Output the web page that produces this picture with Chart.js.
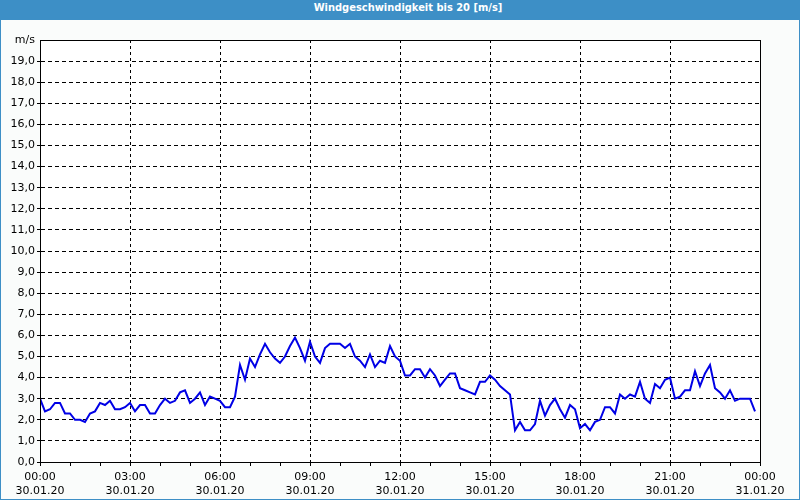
<!DOCTYPE html>
<html>
<head>
<meta charset="utf-8">
<script src="https://cdn.jsdelivr.net/npm/chart.js@4.4.1/dist/chart.umd.min.js"></script>
<style>
  html, body { margin: 0; padding: 0; background: #fafcfb; }
  #frame { position: relative; width: 798px; height: 498px; border: 1px solid #3d8fc6; background: #fafcfb; overflow: hidden; }
  #title { position: absolute; left: 0; top: 0; width: 782px; padding-left: 16px; height: 19px; line-height: 19px; background: #3d8fc6;
           color: #fff; font: bold 11px "DejaVu Sans Condensed", "DejaVu Sans", sans-serif; text-align: center; z-index: 2; }
  #chart { position: absolute; left: -1px; top: -1px; }
</style>
</head>
<body>
<div id="frame">
  <div id="title">Windgeschwindigkeit bis 20 [m/s]</div>
  <canvas id="chart" width="800" height="500"></canvas>
</div>
<script>
// Messwerte alle 10 Minuten, 30.01.20 00:00 bis 23:50
const stepMinutes = 10;
const windSpeed = [
  3.0, 2.4, 2.5, 2.8, 2.8, 2.3, 2.3, 2.0, 2.0, 1.9, 2.3, 2.4, 2.8, 2.7, 2.9, 2.5, 2.5, 2.6, 2.8, 2.4, 2.7, 2.7, 2.3, 2.3,
  2.7, 3.0, 2.8, 2.9, 3.3, 3.4, 2.8, 3.0, 3.3, 2.7, 3.1, 3.0, 2.9, 2.6, 2.6, 3.1, 4.6, 3.9, 4.9, 4.5, 5.1, 5.6, 5.2, 4.9,
  4.7, 5.0, 5.5, 5.9, 5.4, 4.8, 5.7, 5.0, 4.7, 5.4, 5.6, 5.6, 5.6, 5.4, 5.6, 5.0, 4.8, 4.5, 5.1, 4.5, 4.8, 4.7, 5.5, 5.0,
  4.8, 4.1, 4.1, 4.4, 4.4, 4.0, 4.4, 4.1, 3.6, 3.9, 4.2, 4.2, 3.5, 3.4, 3.3, 3.2, 3.8, 3.8, 4.1, 3.9, 3.6, 3.4, 3.2, 1.5,
  1.9, 1.5, 1.5, 1.8, 2.9, 2.2, 2.7, 3.0, 2.5, 2.1, 2.7, 2.5, 1.6, 1.8, 1.5, 1.9, 2.0, 2.6, 2.6, 2.3, 3.2, 3.0, 3.2, 3.1,
  3.8, 3.0, 2.8, 3.7, 3.5, 3.9, 4.0, 3.0, 3.1, 3.4, 3.4, 4.3, 3.6, 4.2, 4.6, 3.5, 3.3, 3.0, 3.4, 2.9, 3.0, 3.0, 3.0, 2.4
];

// Beschriftung der x-Achse (alle 3 Stunden)
const timeLabels = ['00:00', '03:00', '06:00', '09:00', '12:00', '15:00', '18:00', '21:00', '00:00'];
const dateLabels = ['30.01.20', '30.01.20', '30.01.20', '30.01.20', '30.01.20', '30.01.20', '30.01.20', '30.01.20', '31.01.20'];
const yUnit = 'm/s';

const points = windSpeed.map((v, i) => ({ x: i * stepMinutes / 60, y: v }));
const font = { family: '"DejaVu Sans", sans-serif', size: 11 };

// weisser Plotbereich + Rahmen
const frameBox = {
  id: 'frameBox',
  beforeDraw(chart) {
    const a = chart.chartArea, ctx = chart.ctx;
    ctx.save();
    ctx.fillStyle = '#ffffff';
    ctx.fillRect(a.left, a.top, a.right - a.left, a.bottom - a.top);
    ctx.restore();
  },
  afterDraw(chart) {
    const a = chart.chartArea, ctx = chart.ctx;
    ctx.save();
    ctx.strokeStyle = '#000';
    ctx.lineWidth = 1;
    ctx.strokeRect(a.left + 0.5, a.top + 0.5, a.right - a.left, a.bottom - a.top);
    ctx.restore();
  }
};

new Chart(document.getElementById('chart'), {
  type: 'line',
  data: {
    datasets: [{
      data: points,
      borderColor: '#0000e6',
      borderWidth: 2,
      pointRadius: 0,
      tension: 0,
      fill: false
    }]
  },
  options: {
    responsive: false,
    animation: false,
    layout: { padding: { top: 40, right: 40, left: 1, bottom: 1 } },
    plugins: { legend: { display: false }, tooltip: { enabled: false } },
    scales: {
      x: {
        type: 'linear',
        min: 0,
        max: 24,
        afterFit(scale) { scale.height = 37; },
        ticks: {
          stepSize: 1,
          autoSkip: false,
          maxRotation: 0,
          padding: 5,
          color: '#000',
          font: font,
          callback(value) {
            if (value % 3 !== 0) return '';
            const i = value / 3;
            return [timeLabels[i], dateLabels[i]];
          }
        },
        grid: {
          color: ctx => (ctx.tick && ctx.tick.value % 3 === 0 && ctx.tick.value > 0 && ctx.tick.value < 24) ? '#000' : 'rgba(0,0,0,0)',
          tickColor: '#000',
          tickLength: 4,
          tickBorderDash: []
        },
        border: { color: '#000', dash: [3, 3] }
      },
      y: {
        min: 0,
        max: 20,
        afterFit(scale) { scale.width = 39; },
        ticks: {
          stepSize: 1,
          autoSkip: false,
          padding: 2,
          color: '#000',
          font: font,
          callback(value) {
            if (value === 20) return yUnit;
            return value.toFixed(1).replace('.', ',');
          }
        },
        grid: {
          color: ctx => (ctx.tick && ctx.tick.value > 0 && ctx.tick.value < 20) ? '#000' : 'rgba(0,0,0,0)',
          tickColor: ctx => (ctx.tick && ctx.tick.value < 20) ? '#000' : 'rgba(0,0,0,0)',
          tickLength: 3,
          tickBorderDash: []
        },
        border: { color: '#000', dash: [4, 3] }
      }
    }
  },
  plugins: [frameBox]
});
</script>
</body>
</html>
